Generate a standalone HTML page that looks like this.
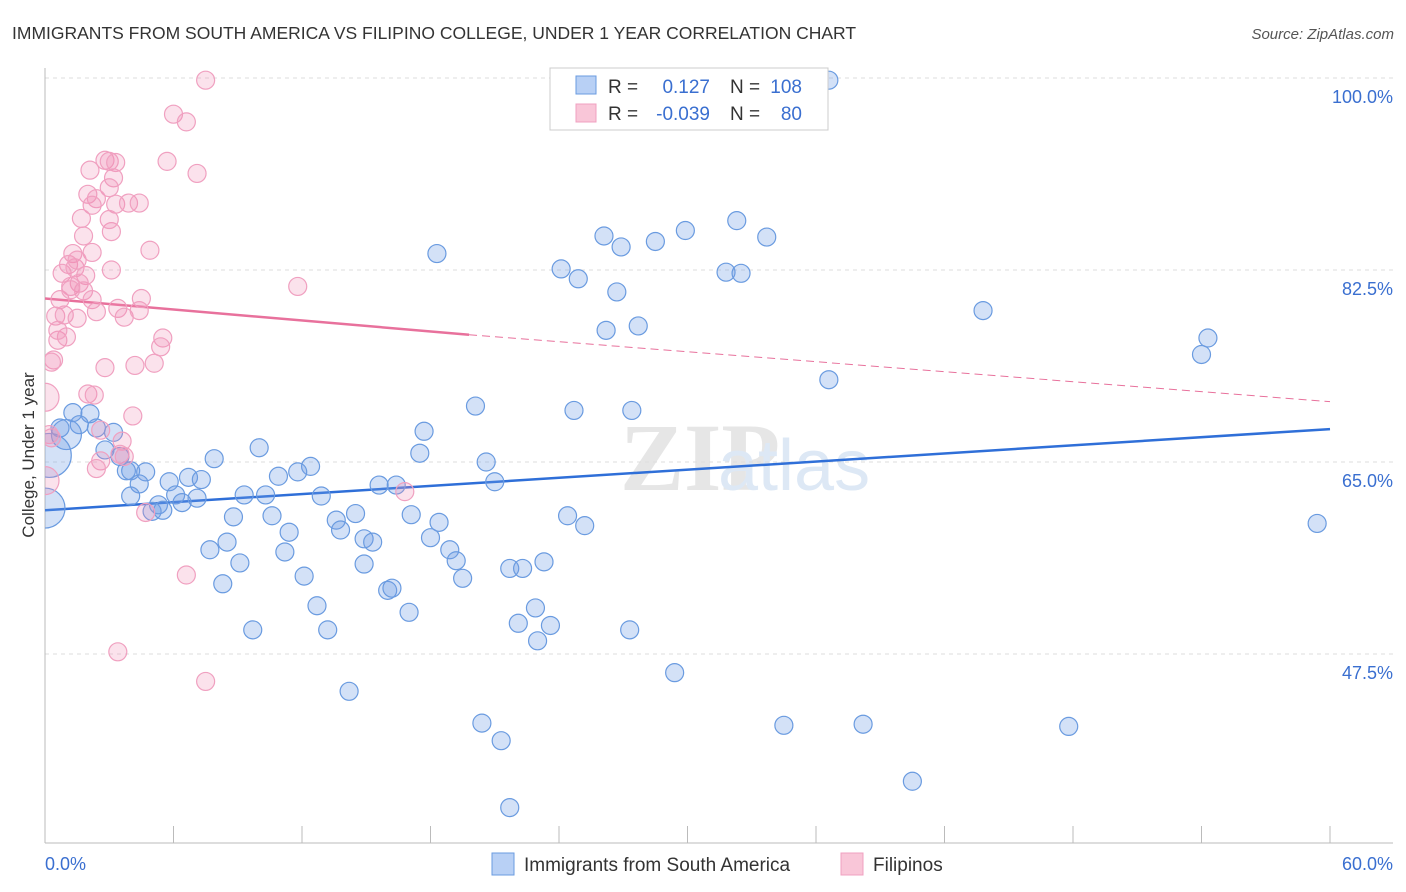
<!DOCTYPE html>
<html><head><meta charset="utf-8">
<style>
body{margin:0;background:#fff;font-family:"Liberation Sans",sans-serif;}
#wrap{position:relative;width:1406px;height:892px;overflow:hidden;}
</style></head>
<body>
<div id="wrap">
<svg id="svg" width="1406" height="892">
<defs><clipPath id="plotclip"><rect x="45" y="60" width="1360" height="783"/></clipPath></defs>
<text x="12" y="39" font-size="17.5" fill="#333">IMMIGRANTS FROM SOUTH AMERICA VS FILIPINO COLLEGE, UNDER 1 YEAR CORRELATION CHART</text>
<text x="1394" y="39" font-size="15" fill="#555" font-style="italic" text-anchor="end">Source: ZipAtlas.com</text>
<text x="620" y="490" font-size="96" fill="#e6e6e6" font-family="Liberation Serif" font-weight="bold">ZIP</text>
<text x="718" y="490" font-size="72" fill="#dde8f5">atlas</text>
<g id="grid"></g><g id="axes"></g><g id="trend" clip-path="url(#plotclip)"></g><g id="pts" clip-path="url(#plotclip)"></g>
<text transform="translate(34,455) rotate(-90)" font-size="17" fill="#333" text-anchor="middle">College, Under 1 year</text>
<text x="45" y="870" font-size="18" fill="#3a6fd0">0.0%</text>
<text x="1393" y="870" font-size="18" fill="#3a6fd0" text-anchor="end">60.0%</text>
<g>
<rect x="550" y="68" width="278" height="62" fill="#fff" stroke="#ccc"/>
<rect x="576" y="76" width="20" height="18" fill="#b8d0f5" stroke="#6a9be0"/>
<rect x="576" y="104" width="20" height="18" fill="#f9c6d8" stroke="#f0a0c0"/>
<text x="608" y="93" font-size="19" fill="#333">R =</text><text x="710" y="93" font-size="19" fill="#3a6fd0" text-anchor="end">0.127</text>
<text x="730" y="93" font-size="19" fill="#333">N =</text><text x="802" y="93" font-size="19" fill="#3a6fd0" text-anchor="end">108</text>
<text x="608" y="120" font-size="19" fill="#333">R =</text><text x="710" y="120" font-size="19" fill="#3a6fd0" text-anchor="end">-0.039</text>
<text x="730" y="120" font-size="19" fill="#333">N =</text><text x="802" y="120" font-size="19" fill="#3a6fd0" text-anchor="end">80</text>
</g>
<g>
<rect x="492" y="853" width="22" height="22" fill="#b8d0f5" stroke="#6a9be0"/>
<text x="524" y="871" font-size="19" fill="#333">Immigrants from South America</text>
<rect x="841" y="853" width="22" height="22" fill="#f9c6d8" stroke="#f0a0c0"/>
<text x="873" y="871" font-size="19" fill="#333">Filipinos</text>
</g>
</svg>
</div>
<script>
const yTicks=[100,82.5,65,47.5];
const yTickLabels=["100.0%","82.5%","65.0%","47.5%"];
const xTicks=[0,6,12,18,24,30,36,42,48,54,60];
const blueX=[36.6,18.3,26.1,26.9,28.5,29.9,32.3,33.7,24.1,24.9,31.8,32.5,26.7,26.2,27.7,43.8,54.3,54.0,36.6,20.1,24.7,27.4,17.7,17.5,20.6,21.0,15.6,16.4,12.4,10.9,11.8,10.0,7.9,6.7,7.3,5.8,4.7,3.8,3.5,3.2,2.8,2.4,2.1,1.3,1.6,1.0,0.7,0.2,0.0,4.0,4.4,4.0,5.3,5.0,5.5,6.1,7.1,6.4,9.3,10.3,12.9,8.8,10.6,11.4,13.6,13.8,14.5,17.1,18.4,14.9,15.3,18.0,18.9,19.2,19.5,21.7,22.3,23.3,24.4,25.2,7.7,8.5,9.1,11.2,12.1,14.9,8.3,12.7,16.0,16.2,17.0,22.9,22.1,23.6,23.0,27.3,9.7,13.2,29.4,14.2,20.4,21.3,34.5,38.2,47.8,40.5,21.7,59.4];
const blueY=[99.8,84.0,85.6,84.6,85.1,86.1,87.0,85.5,82.6,81.7,82.3,82.2,80.5,77.0,77.4,78.8,76.3,74.8,72.5,70.1,69.7,69.7,67.8,65.8,65.0,63.2,62.9,62.9,64.6,63.7,64.1,66.3,65.3,63.6,63.4,63.2,64.1,64.2,65.5,67.7,66.1,68.1,69.4,69.5,68.4,67.5,68.1,65.6,60.8,64.2,63.0,61.9,61.1,60.5,60.6,62.0,61.7,61.3,62.0,62.0,61.9,60.0,60.1,58.6,59.7,58.8,60.3,60.2,59.5,58.0,57.7,58.1,57.0,56.0,54.4,55.3,55.3,55.9,60.1,59.2,57.0,57.7,55.8,56.8,54.6,55.7,53.9,51.9,53.3,53.5,51.3,51.7,50.3,50.1,48.7,49.7,49.7,49.7,45.8,44.1,41.2,39.6,41.0,41.1,40.9,35.9,33.5,59.4];
const blueBig={47:22,48:20,45:15};
const pinkX=[7.5,6.0,6.6,2.8,3.0,3.3,5.7,7.1,2.1,3.2,3.0,2.0,2.4,2.2,3.3,3.9,4.4,1.7,3.1,1.8,1.3,1.1,2.2,4.9,3.1,0.8,1.4,1.9,1.6,1.2,1.8,0.7,2.2,4.5,11.8,0.5,0.9,1.5,2.4,3.4,3.7,4.4,0.6,1.0,5.5,5.4,0.4,0.3,2.8,4.2,5.1,2.0,2.3,0.0,4.1,0.2,0.3,2.6,3.6,3.5,2.6,2.4,3.7,16.8,4.7,6.6,3.4,7.5,0.0,0.6,1.2,1.5,3.0];
const pinkY=[99.8,96.7,96.0,92.5,92.4,92.3,92.4,91.3,91.6,90.9,90.0,89.4,89.0,88.4,88.5,88.6,88.6,87.2,86.0,85.6,84.0,83.0,84.1,84.3,82.5,82.2,82.7,82.0,81.3,81.0,80.6,79.8,79.8,79.9,81.0,78.3,78.4,78.1,78.7,79.0,78.2,78.8,76.1,76.4,76.3,75.5,74.3,74.1,73.6,73.8,74.0,71.2,71.1,70.9,69.2,67.5,67.2,67.9,66.9,65.7,65.1,64.4,65.5,62.3,60.4,54.7,47.7,45.0,63.3,77.0,80.7,83.4,87.1];
const pinkBig={53:14,68:14};
const blueTrendX=[0,60], blueTrendY=[60.6,68.0];
const pinkTrendX=[0,19.8,60], pinkTrendY=[79.9,76.6,70.5];

const NS="http://www.w3.org/2000/svg";
const X=v=>45+v/60*1285;
const Y=v=>78+(100-v)*192/17.5;
function mk(tag,attrs,parent){const e=document.createElementNS(NS,tag);for(const k in attrs)e.setAttribute(k,attrs[k]);document.getElementById(parent).appendChild(e);return e;}
yTicks.forEach((t,i)=>{
  const g=mk('line',{x1:45,x2:1393,y1:Y(t),y2:Y(t),stroke:'#ddd','stroke-dasharray':'4,4'},'grid');
  
  
  const l=mk('text',{x:1393,y:Y(t)+25,'font-size':18,fill:'#3a6fd0','text-anchor':'end'},'grid');
  l.textContent=yTickLabels[i];
  
  
});
const ax=mk('line',{x1:45,x2:1393,y1:843,y2:843,stroke:'#bbb'},'axes');


const ay=mk('line',{x1:45,x2:45,y1:68,y2:843,stroke:'#bbb'},'axes');


xTicks.forEach(t=>{
  const k=mk('line',{x1:X(t),x2:X(t),y1:826,y2:843,stroke:'#bbb'},'axes');
  
  
});
blueX.forEach((v,i)=>{
  const c=mk('circle',{cx:X(v),cy:Y(blueY[i]),r:blueBig[i]||9,fill:'rgba(110,155,230,0.3)',stroke:'#6a9be0','stroke-width':1.2},'pts');
  
  
});
pinkX.forEach((v,i)=>{
  const c=mk('circle',{cx:X(v),cy:Y(pinkY[i]),r:pinkBig[i]||9,fill:'rgba(240,140,180,0.25)',stroke:'#f0a0c0','stroke-width':1.2},'pts');
  
  
});
const bt=mk('line',{x1:X(blueTrendX[0]),y1:Y(blueTrendY[0]),x2:X(blueTrendX[1]),y2:Y(blueTrendY[1]),stroke:'#2f6fd8','stroke-width':2.5},'trend');


const pt=mk('line',{x1:X(pinkTrendX[0]),y1:Y(pinkTrendY[0]),x2:X(pinkTrendX[1]),y2:Y(pinkTrendY[1]),stroke:'#e8719c','stroke-width':2.5},'trend');


const pd=mk('line',{x1:X(pinkTrendX[1]),y1:Y(pinkTrendY[1]),x2:X(pinkTrendX[2]),y2:Y(pinkTrendY[2]),stroke:'#e8719c','stroke-width':1,'stroke-dasharray':'8,5'},'trend');


</script>
</body></html>
